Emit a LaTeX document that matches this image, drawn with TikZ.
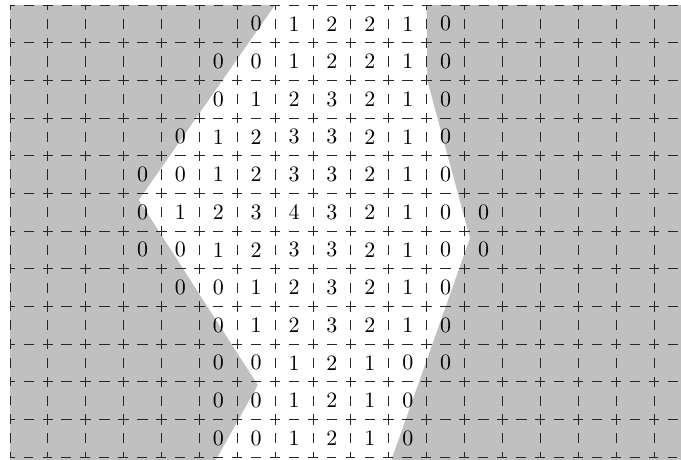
\documentclass[tikz,border=0pt]{standalone}
\usepackage{fontspec}
\newfontfamily\digitfont{lmroman10-regular.otf}
\definecolor{shadegray}{RGB}{192,192,192}
\tikzset{
  cellline/.style={line width=0.65pt, black!85, dash pattern=on 0.26cm off 0.24cm, dash phase=0.13cm},
  num/.style={font=\digitfont\fontsize{16.5}{19}\selectfont, inner sep=0pt},
}
\begin{document}
\begin{tikzpicture}[x=1cm,y=0.9945cm]
\useasboundingbox (-0.264,-0.052) rectangle (17.714,12.133);
\clip (-0.264,-0.052) rectangle (17.714,12.133);
% shaded outside region
\fill[shadegray] (0,-0.2) rectangle (17.9,12);
% free (white) region
\fill[white] (7,12) -- (3.405,6.823) -- (6.547,1.912) -- (5.37,-0.2)
  -- (10.02,-0.2) -- (12.14,5.81) -- (11.01,10.01) -- (11.0,12) -- cycle;
% dashed cell grid
\foreach \i in {0,...,17} {
  \foreach \j in {0,...,11} {
    \draw[cellline] (\i,\j) rectangle ++(1,1);
  }
}
% distance values
\foreach \r/\s/\l in {
  0/6/{0,1,2,2,1,0},
  1/5/{0,0,1,2,2,1,0},
  2/5/{0,1,2,3,2,1,0},
  3/4/{0,1,2,3,3,2,1,0},
  4/3/{0,0,1,2,3,3,2,1,0},
  5/3/{0,1,2,3,4,3,2,1,0,0},
  6/3/{0,0,1,2,3,3,2,1,0,0},
  7/4/{0,0,1,2,3,2,1,0},
  8/5/{0,1,2,3,2,1,0},
  9/5/{0,0,1,2,1,0,0},
  10/5/{0,0,1,2,1,0},
  11/5/{0,0,1,2,1,0}} {
  \foreach \d [count=\c from 0] in \l {
    \node[num] (n-\r-\c) at ({\s+\c+0.5},{11.5-\r}) {\d};
  }
}
\end{tikzpicture}
\end{document}
